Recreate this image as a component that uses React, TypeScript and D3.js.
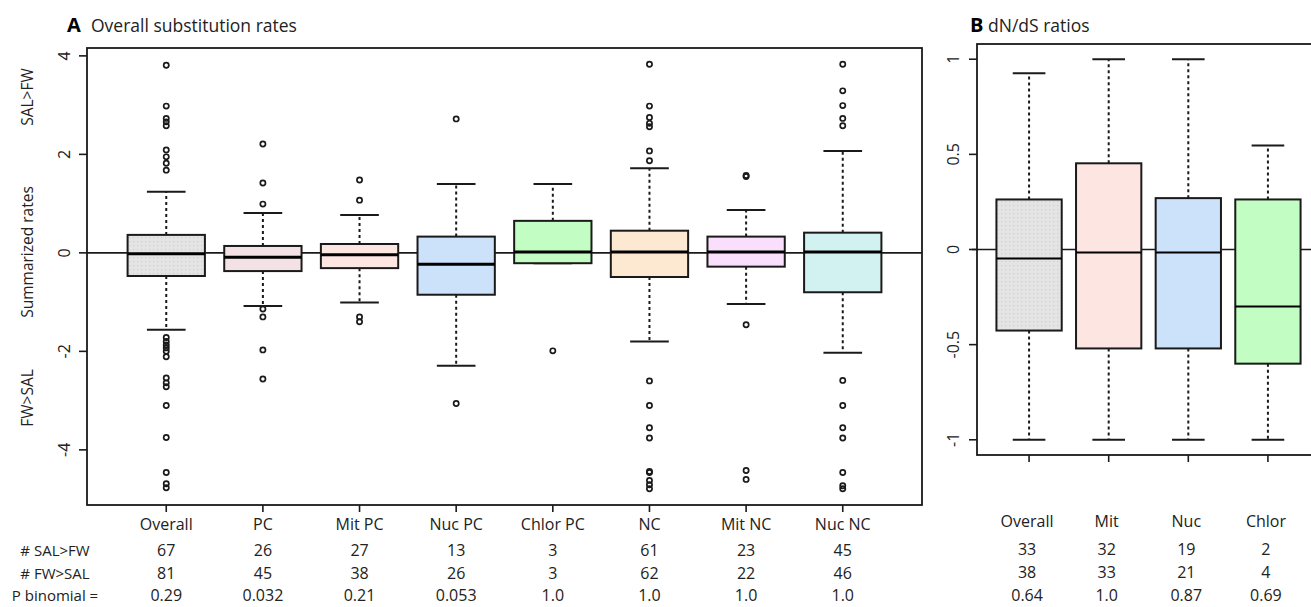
import React from "react";
import * as d3 from "d3";

// Panel A: overall substitution rates
const catsA = ["Overall", "PC", "Mit PC", "Nuc PC", "Chlor PC", "NC", "Mit NC", "Nuc NC"];
const q3A = [0.365, 0.14, 0.18, 0.33, 0.65, 0.45, 0.33, 0.41];
const medA = [-0.02, -0.09, -0.04, -0.23, 0.02, 0.02, 0.02, 0.02];
const q1A = [-0.47, -0.37, -0.31, -0.85, -0.21, -0.49, -0.28, -0.8];
const hiA = [1.24, 0.81, 0.77, 1.4, 1.4, 1.72, 0.87, 2.07];
const loA = [-1.56, -1.08, -1.01, -2.29, -0.21, -1.8, -1.04, -2.03];
const outA = [
  [3.81, 2.98, 2.73, 2.66, 2.58, 2.09, 1.95, 1.82, 1.68, -1.72, -1.8, -1.87, -1.93, -2.0, -2.11, -2.54, -2.64, -2.72, -3.1, -3.75, -4.46, -4.69, -4.77],
  [2.21, 1.42, 0.99, -1.14, -1.3, -1.97, -2.56],
  [1.48, 1.07, -1.3, -1.4],
  [2.72, -3.06],
  [-1.99],
  [3.83, 2.98, 2.75, 2.63, 2.56, 2.07, 1.87, -2.6, -3.1, -3.55, -3.76, -4.44, -4.46, -4.62, -4.71, -4.79],
  [1.55, 1.57, -1.46, -4.42, -4.6],
  [3.83, 3.29, 2.99, 2.73, 2.58, -2.59, -3.1, -3.55, -3.76, -4.46, -4.73, -4.79],
];
const colA = ["url(#dots)", "#f4e1e6", "#fde5e2", "#cce2fb", "#c2fec3", "#fde9d2", "#f9dffb", "#d2f1f1"];
const salA = ["67", "26", "27", "13", "3", "61", "23", "45"];
const fwA = ["81", "45", "38", "26", "3", "62", "22", "46"];
const pA = ["0.29", "0.032", "0.21", "0.053", "1.0", "1.0", "1.0", "1.0"];
const ticksA = [-4, -2, 0, 2, 4];

// Panel B: dN/dS ratios
const catsB = ["Overall", "Mit", "Nuc", "Chlor"];
const q3B = [0.263, 0.453, 0.27, 0.263];
const medB = [-0.047, -0.016, -0.016, -0.3];
const q1B = [-0.426, -0.52, -0.52, -0.6];
const hiB = [0.926, 1.0, 1.0, 0.547];
const loB = [-1.0, -1.0, -1.0, -1.0];
const colB = ["url(#dots)", "#fde5e2", "#cce2fb", "#c2fec3"];
const salB = ["33", "32", "19", "2"];
const fwB = ["38", "33", "21", "4"];
const pB = ["0.64", "1.0", "0.87", "0.69"];
const ticksB = [-1, -0.5, 0, 0.5, 1];

const font = "'Open Sans', 'Noto Sans', sans-serif";
const ink = "#1a1a1a";

function Boxes({ x, y, n, q1, med, q3, lo, hi, col, bw, medW, outs }) {
  return (
    <g>
      {d3.range(n).map((i) => {
        const cx = x(i + 1);
        const hw = (x(1 + bw / 2) - x(1));
        const cw = hw / 2;
        return (
          <g key={i}>
            <line x1={cx} x2={cx} y1={y(q3[i])} y2={y(hi[i])} stroke={ink} strokeWidth={2} strokeDasharray="3,3" />
            <line x1={cx} x2={cx} y1={y(q1[i])} y2={y(lo[i])} stroke={ink} strokeWidth={2} strokeDasharray="3,3" />
            <line x1={cx - cw} x2={cx + cw} y1={y(hi[i])} y2={y(hi[i])} stroke={ink} strokeWidth={2} />
            <line x1={cx - cw} x2={cx + cw} y1={y(lo[i])} y2={y(lo[i])} stroke={ink} strokeWidth={2} />
            <rect x={cx - hw} width={hw * 2} y={y(q3[i])} height={y(q1[i]) - y(q3[i])} fill={col[i]} stroke={ink} strokeWidth={2} />
            <line x1={cx - hw} x2={cx + hw} y1={y(med[i])} y2={y(med[i])} stroke="#000" strokeWidth={medW} />
            {outs && outs[i].map((v, j) => (
              <circle key={j} cx={cx} cy={y(v)} r={2.6} fill="none" stroke={ink} strokeWidth={1.7} />
            ))}
          </g>
        );
      })}
    </g>
  );
}

export default function App() {
  // Panel A scales
  const xA = d3.scaleLinear().domain([0.18, 8.82]).range([87, 922]);
  const yA = d3.scaleLinear().domain([-5.12, 4.16]).range([505, 48]);
  // Panel B scales
  const xB = d3.scaleLinear().domain([0.346, 4.654]).range([977, 1320]);
  const yB = d3.scaleLinear().domain([-1.08, 1.08]).range([455, 44]);

  const rowsA = [
    { lab: "# SAL>FW", vals: salA, y: 556 },
    { lab: "# FW>SAL", vals: fwA, y: 579 },
    { lab: "P binomial =", vals: pA, y: 601 },
  ];
  const rowsB = [
    { vals: salB, y: 555 },
    { vals: fwB, y: 578 },
    { vals: pB, y: 601 },
  ];

  return (
    <svg width={1311} height={607} style={{ position: "absolute", left: 0, top: 0, background: "#fff" }} fontFamily={font}>
      <defs>
        <pattern id="dots" width={4} height={4} patternUnits="userSpaceOnUse">
          <rect width={4} height={4} fill="#e4e4e4" />
          <rect x={1} y={1} width={1.2} height={1.2} fill="#cfcfcf" />
        </pattern>
      </defs>
      <rect width={1311} height={607} fill="#fff" />

      {/* ---- Panel A ---- */}
      <text x={67} y={32} fontSize={20} fontWeight="bold" fill="#000">A</text>
      <text x={91} y={32} fontSize={17.5} fill="#222">Overall substitution rates</text>

      <line x1={87} x2={922} y1={yA(0)} y2={yA(0)} stroke={ink} strokeWidth={1.6} />
      <Boxes x={xA} y={yA} n={catsA.length} q1={q1A} med={medA} q3={q3A} lo={loA} hi={hiA} col={colA} bw={0.8} medW={3} outs={outA} />
      <rect x={87} y={48} width={835} height={457} fill="none" stroke={ink} strokeWidth={1.8} />

      {ticksA.map((t) => (
        <g key={t}>
          <line x1={79} x2={87} y1={yA(t)} y2={yA(t)} stroke={ink} strokeWidth={1.6} />
          <text transform={`translate(70,${yA(t)}) rotate(-90)`} textAnchor="middle" fontSize={16} fill="#222">{t}</text>
        </g>
      ))}
      {catsA.map((c, i) => (
        <line key={c} x1={xA(i + 1)} x2={xA(i + 1)} y1={505} y2={512} stroke={ink} strokeWidth={1.6} />
      ))}

      <text transform="translate(33,97) rotate(-90)" textAnchor="middle" fontSize={15.5} fill="#222">SAL&gt;FW</text>
      <text transform="translate(33,252) rotate(-90)" textAnchor="middle" fontSize={15.5} fill="#222">Summarized rates</text>
      <text transform="translate(33,398) rotate(-90)" textAnchor="middle" fontSize={15.5} fill="#222">FW&gt;SAL</text>

      {catsA.map((c, i) => (
        <text key={c} x={xA(i + 1)} y={530} textAnchor="middle" fontSize={16} fill="#222">{c}</text>
      ))}
      {rowsA.map((r) => (
        <g key={r.lab}>
          <text x={55} y={r.y} textAnchor="middle" fontSize={15} fill="#222">{r.lab}</text>
          {r.vals.map((v, i) => (
            <text key={i} x={xA(i + 1)} y={r.y} textAnchor="middle" fontSize={16} fill="#222">{v}</text>
          ))}
        </g>
      ))}

      {/* ---- Panel B ---- */}
      <text x={970} y={32} fontSize={20} fontWeight="bold" fill="#000">B</text>
      <text x={988} y={32} fontSize={17.5} fill="#222">dN/dS ratios</text>

      <line x1={972} x2={1320} y1={yB(0)} y2={yB(0)} stroke={ink} strokeWidth={1.6} />
      <Boxes x={xB} y={yB} n={catsB.length} q1={q1B} med={medB} q3={q3B} lo={loB} hi={hiB} col={colB} bw={0.82} medW={2} outs={null} />
      <rect x={977} y={44} width={343} height={411} fill="none" stroke={ink} strokeWidth={1.8} />

      {ticksB.map((t) => (
        <g key={t}>
          <line x1={969} x2={977} y1={yB(t)} y2={yB(t)} stroke={ink} strokeWidth={1.6} />
          <text transform={`translate(959,${yB(t)}) rotate(-90)`} textAnchor="middle" fontSize={16} fill="#222">{t}</text>
        </g>
      ))}
      {catsB.map((c, i) => (
        <line key={c} x1={xB(i + 1)} x2={xB(i + 1)} y1={455} y2={462} stroke={ink} strokeWidth={1.6} />
      ))}

      {catsB.map((c, i) => (
        <text key={c} x={xB(i + 1) - 2} y={527} textAnchor="middle" fontSize={16} fill="#222">{c}</text>
      ))}
      {rowsB.map((r, k) => (
        <g key={k}>
          {r.vals.map((v, i) => (
            <text key={i} x={xB(i + 1) - 2} y={r.y} textAnchor="middle" fontSize={16} fill="#222">{v}</text>
          ))}
        </g>
      ))}
    </svg>
  );
}
